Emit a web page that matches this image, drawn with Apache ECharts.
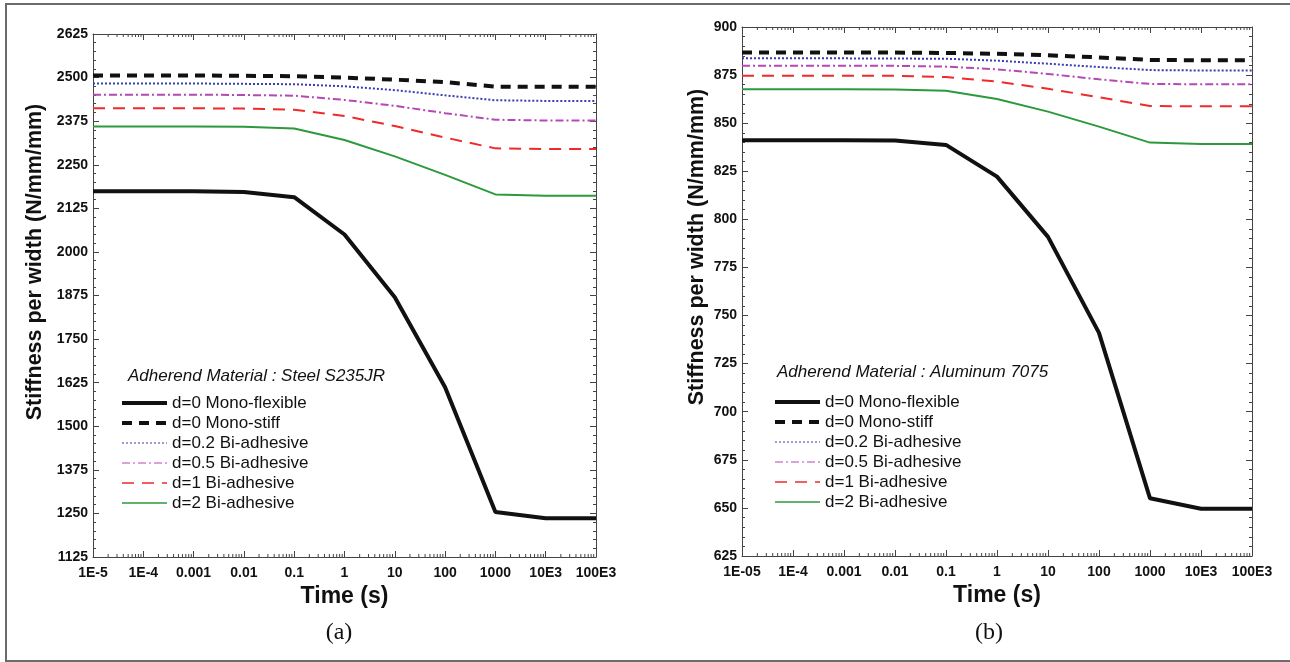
<!DOCTYPE html>
<html>
<head>
<meta charset="utf-8">
<script src="https://cdn.jsdelivr.net/npm/echarts@6/dist/echarts.min.js"></script>
<style>
html, body { margin: 0; padding: 0; background: #fff; }
#main { width: 1290px; height: 662px; }
</style>
</head>
<body>
<div id="main"></div>
<script>
// time points (s), one per decade
var times = [1e-5, 1e-4, 1e-3, 1e-2, 0.1, 1, 10, 100, 1000, 1e4, 1e5];
var tickLabelsA = ['1E-5', '1E-4', '0.001', '0.01', '0.1', '1', '10', '100', '1000', '10E3', '100E3'];
var tickLabelsB = ['1E-05', '1E-4', '0.001', '0.01', '0.1', '1', '10', '100', '1000', '10E3', '100E3'];
var seriesNames = ['d=0 Mono-flexible', 'd=0 Mono-stiff', 'd=0.2 Bi-adhesive', 'd=0.5 Bi-adhesive', 'd=1 Bi-adhesive', 'd=2 Bi-adhesive'];

// (a) steel S235JR
var steelMonoFlex  = [2174, 2174, 2174, 2172, 2157, 2050, 1870, 1612, 1254, 1236, 1236];
var steelMonoStiff = [2506, 2506, 2506, 2505, 2504, 2500, 2494, 2487, 2474, 2474, 2474];
var steelD02 = [2483, 2483, 2483, 2482, 2481, 2475, 2464, 2449, 2435, 2433, 2433];
var steelD05 = [2451, 2451, 2451, 2450, 2448, 2436, 2419, 2398, 2379, 2377, 2377];
var steelD1  = [2412, 2412, 2412, 2411, 2408, 2390, 2361, 2328, 2297, 2295, 2295];
var steelD2  = [2360, 2360, 2360, 2359, 2354, 2321, 2274, 2221, 2165, 2161, 2161];

// (b) aluminum 7075
var aluMonoFlex  = [841.1, 841.1, 841.1, 841.0, 838.7, 822.2, 790.9, 741.0, 655.0, 649.6, 649.6];
var aluMonoStiff = [886.8, 886.8, 886.8, 886.7, 886.5, 886.1, 885.3, 884.2, 882.9, 882.7, 882.7];
var aluD02 = [883.7, 883.7, 883.7, 883.6, 883.5, 882.5, 880.9, 879.2, 877.6, 877.4, 877.4];
var aluD05 = [879.9, 879.9, 879.9, 879.8, 879.4, 878.0, 875.6, 872.8, 870.4, 870.2, 870.2];
var aluD1  = [874.7, 874.7, 874.7, 874.6, 874.0, 871.6, 867.9, 863.5, 858.9, 858.8, 858.8];
var aluD2  = [867.6, 867.6, 867.6, 867.5, 866.9, 862.6, 856.0, 848.2, 839.9, 839.2, 839.2];

var styles = [
    {color: '#111', width: 4, type: 'solid', legendWidth: 4},
    {color: '#111', width: 4, type: [10, 7], legendWidth: 4},
    {color: '#3b3bb0', width: 2, type: [2, 2], legendWidth: 1.2},
    {color: '#b548b5', width: 2, type: [8, 3, 2, 3], legendWidth: 1.2},
    {color: '#ee2b2b', width: 2, type: [12, 8], legendWidth: 1.5},
    {color: '#2b9a3c', width: 2, type: 'solid', legendWidth: 1.5}
];

// log minor ticks 2..9 in every decade
var minorTicks = [];
times.slice(0, -1).forEach(function (t) {
    for (var k = 2; k < 10; k++) minorTicks.push(t * k);
});

var font = 'Liberation Sans, Arial, sans-serif';

function pair(v, i) { return [times[i], v]; }

function lineSeries(name, values, idx, st) {
    return {
        name: name,
        type: 'line',
        xAxisIndex: idx,
        yAxisIndex: idx,
        symbol: 'none',
        data: values.map(pair),
        lineStyle: {color: st.color, width: st.width, type: st.type},
        itemStyle: {color: st.color},
        z: 3
    };
}

function minorTickSeries(idx, ymin) {
    return {
        type: 'custom',
        xAxisIndex: idx,
        yAxisIndex: idx,
        silent: true,
        data: minorTicks.map(function (t) { return [t, ymin]; }),
        renderItem: function (params, api) {
            var x = api.coord([api.value(0), api.value(1)])[0];
            var cs = params.coordSys;
            var b = cs.y + cs.height;
            return {
                type: 'group',
                children: [
                    {type: 'line', shape: {x1: x, y1: b, x2: x, y2: b - 3}, style: {stroke: '#444', lineWidth: 1}},
                    {type: 'line', shape: {x1: x, y1: cs.y, x2: x, y2: cs.y + 3}, style: {stroke: '#444', lineWidth: 1}}
                ]
            };
        }
    };
}

function xAxes(gridIndex, labels) {
    var base = {
        type: 'log',
        logBase: 10,
        gridIndex: gridIndex,
        min: 1e-5,
        max: 1e5,
        interval: 1,
        axisLine: {lineStyle: {color: '#444', width: 1}},
        axisTick: {inside: true, length: 6, lineStyle: {color: '#444'}},
        splitLine: {show: false}
    };
    var bottom = echarts.util.merge({
        position: 'bottom',
        name: 'Time (s)',
        nameLocation: 'middle',
        nameGap: 27,
        nameTextStyle: {fontFamily: font, fontWeight: 'bold', fontSize: 23, color: '#111'},
        axisLabel: {
            margin: 9,
            fontFamily: font, fontWeight: 'bold', fontSize: 14, color: '#111',
            formatter: function (v) { return labels[Math.round(Math.log10(v)) + 5]; }
        }
    }, base, true);
    var topAxis = echarts.util.merge({position: 'top', axisLabel: {show: false}}, base, true);
    return [bottom, topAxis];
}

function yAxes(gridIndex, min, max, step) {
    var base = {
        type: 'value',
        gridIndex: gridIndex,
        min: min,
        max: max,
        interval: step,
        axisLine: {show: true, lineStyle: {color: '#444', width: 1}},
        axisTick: {show: true, inside: true, length: 6, lineStyle: {color: '#444'}},
        minorTick: {show: true, splitNumber: 5, length: 3, lineStyle: {color: '#444'}},
        splitLine: {show: false}
    };
    var left = echarts.util.merge({
        position: 'left',
        axisLabel: {
            margin: 5, fontFamily: font, fontWeight: 'bold', fontSize: 14, color: '#111',
            formatter: function (v) { return String(v); }
        }
    }, base, true);
    var right = echarts.util.merge({position: 'right', axisLabel: {show: false}}, base, true);
    return [left, right];
}

var chart = echarts.init(document.getElementById('main'));

var series = [];
var steel = [steelMonoFlex, steelMonoStiff, steelD02, steelD05, steelD1, steelD2];
var alu = [aluMonoFlex, aluMonoStiff, aluD02, aluD05, aluD1, aluD2];
for (var i = 5; i >= 0; i--) {
    series.push(lineSeries(seriesNames[i], steel[i], 0, styles[i]));
    series.push(lineSeries(seriesNames[i], alu[i], 2, styles[i]));
}
series.push(minorTickSeries(0, 1125));
series.push(minorTickSeries(2, 625));

var legendData = seriesNames.map(function (n, i) {
    return {name: n, lineStyle: {width: styles[i].legendWidth}};
});

var legendBase = {
    orient: 'vertical',
    itemWidth: 45,
    itemHeight: 12,
    itemGap: 0,
    selectedMode: false,
    data: legendData,
    itemStyle: {opacity: 0},
    lineStyle: {width: 'inherit'},
    textStyle: {fontFamily: font, fontSize: 17, lineHeight: 20, color: '#111'}
};

var option = {
    backgroundColor: '#fff',
    animation: false,
    grid: [
        {left: 93, top: 34, width: 503, height: 523},
        {left: 742, top: 27, width: 510, height: 529}
    ],
    xAxis: xAxes(0, tickLabelsA).concat(xAxes(1, tickLabelsB)),
    yAxis: yAxes(0, 1125, 2625, 125).concat(yAxes(1, 625, 900, 25)),
    legend: [
        echarts.util.merge({left: 115, top: 388}, legendBase, true),
        echarts.util.merge({left: 768, top: 387}, legendBase, true)
    ],
    graphic: [
        {type: 'rect', shape: {x: 6, y: 4, width: 1300, height: 657}, style: {fill: 'none', stroke: '#6b6b6b', lineWidth: 2}, silent: true},
        {type: 'text', x: 35, y: 262, rotation: Math.PI / 2,
         style: {text: 'Stiffness per width (N/mm/mm)', font: 'bold 21.5px Liberation Sans', fill: '#111', align: 'center', verticalAlign: 'middle', textAlign: 'center', textVerticalAlign: 'middle'}},
        {type: 'text', x: 697, y: 247, rotation: Math.PI / 2,
         style: {text: 'Stiffness per width (N/mm/mm)', font: 'bold 21.5px Liberation Sans', fill: '#111', align: 'center', verticalAlign: 'middle', textAlign: 'center', textVerticalAlign: 'middle'}},
        {type: 'text', x: 128, y: 376,
         style: {text: 'Adherend Material : Steel S235JR', font: 'italic 17px Liberation Sans', fill: '#111', verticalAlign: 'middle', textVerticalAlign: 'middle'}},
        {type: 'text', x: 777, y: 372,
         style: {text: 'Adherend Material : Aluminum 7075', font: 'italic 17px Liberation Sans', fill: '#111', verticalAlign: 'middle', textVerticalAlign: 'middle'}},
        {type: 'text', x: 339, y: 633,
         style: {text: '(a)', font: '24px Liberation Serif', fill: '#111', align: 'center', verticalAlign: 'middle', textAlign: 'center', textVerticalAlign: 'middle'}},
        {type: 'text', x: 989, y: 633,
         style: {text: '(b)', font: '24px Liberation Serif', fill: '#111', align: 'center', verticalAlign: 'middle', textAlign: 'center', textVerticalAlign: 'middle'}}
    ],
    series: series
};

chart.setOption(option);
</script>
</body>
</html>
